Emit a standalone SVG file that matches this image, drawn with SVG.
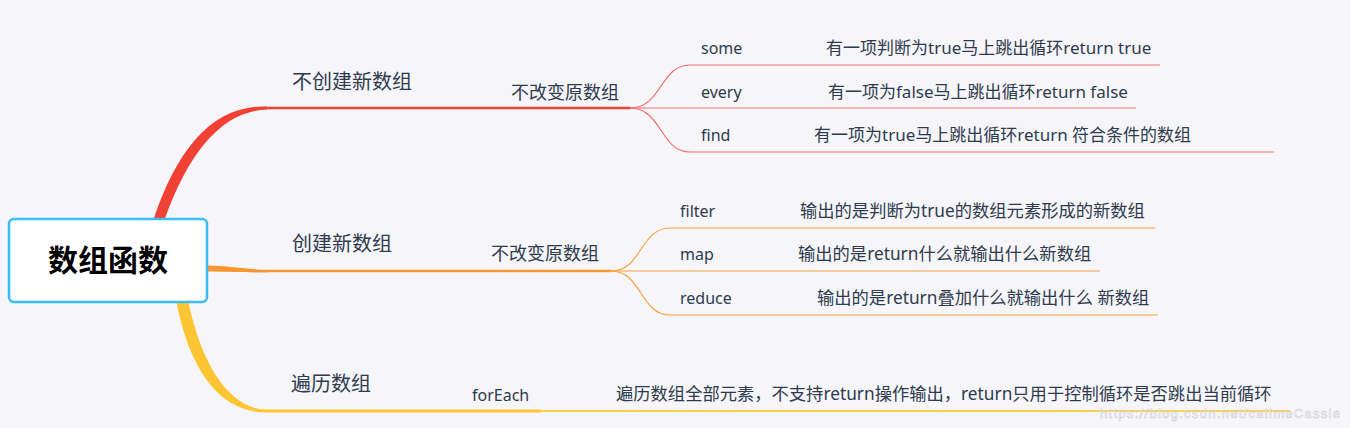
<svg xmlns="http://www.w3.org/2000/svg" width="1350" height="428" viewBox="0 0 1350 428">
<style>
text{font-family:"Noto Sans","Noto Sans CJK SC",sans-serif;fill:#2f3b4c}
.l1{font-size:20px}
.l2{font-size:18px}
.l3{font-size:16px}
.d{font-size:17.3px}
.dr{font-size:17px}
.root{font-size:30px;font-weight:bold;fill:#000;text-anchor:middle}
.rt{fill:none;stroke:#f2706c;stroke-width:1.2}
.ot{fill:none;stroke:#fba13f;stroke-width:1.2}
.wm{font-family:"Liberation Sans",sans-serif;font-size:13px;fill:#ffffff;stroke:#c4c4cc;stroke-width:0.5;opacity:0.85}
</style>
<rect width="1350" height="428" fill="#f5f5fa"/>
<g id="connectors">
  <path d="M153,221 C178,146 214,105 267,106.5 L267,109.5 C224,111 190,148 164,221 Z" fill="#f04134"/>
  <line x1="266" y1="108" x2="630" y2="108" stroke="#f04134" stroke-width="2.6"/>
  <path class="rt" d="M630,108 C662,108 660,65 690,65 L1160,65"/>
  <path class="rt" d="M630,108 L1136,108"/>
  <path class="rt" d="M630,108 C662,108 660,152 690,152 L1274,152"/>
  <path d="M205,265.5 C232,266 248,269.6 267,269.7 L267,272.4 C248,272.5 232,272 205,271.5 Z" fill="#fa9632"/>
  <line x1="266" y1="271" x2="611" y2="271" stroke="#fa9632" stroke-width="2.6"/>
  <path class="ot" d="M611,271 C642,271 640,228 670,228 L1155,228"/>
  <path class="ot" d="M611,271 L1100,271"/>
  <path class="ot" d="M611,271 C642,271 640,315 670,315 L1158,315"/>
  <path d="M176,300 C190,374 222,412.6 267,412.6 L267,409.6 C232,409.6 202,369 188,300 Z" fill="#fdc532"/>
  <line x1="266" y1="411" x2="541" y2="411" stroke="#fdc532" stroke-width="2.8"/>
  <line x1="540" y1="411" x2="1290" y2="411" stroke="#fdd050" stroke-width="2"/>
</g>
<g id="root">
  <rect x="9" y="219" width="198" height="83" rx="5" fill="#ffffff" stroke="#3bbdf6" stroke-width="2.5"/>
  <text class="root" x="108" y="271">数组函数</text>
</g>
<g id="n-nocreate"><text class="l1" x="292" y="89">不创建新数组</text></g>
<g id="n-nochange1"><text class="l2" x="511" y="99">不改变原数组</text></g>
<g id="n-some"><text class="l3" x="701" y="54">some</text></g>
<g id="n-some-d"><text class="dr" x="826" y="54">有一项判断为true马上跳出循环return true</text></g>
<g id="n-every"><text class="l3" x="701" y="98">every</text></g>
<g id="n-every-d"><text class="dr" x="828" y="98">有一项为false马上跳出循环return false</text></g>
<g id="n-find"><text class="l3" x="701" y="141">find</text></g>
<g id="n-find-d"><text class="dr" x="814" y="141">有一项为true马上跳出循环return 符合条件的数组</text></g>
<g id="n-create"><text class="l1" x="292" y="251">创建新数组</text></g>
<g id="n-nochange2"><text class="l2" x="491" y="260">不改变原数组</text></g>
<g id="n-filter"><text class="l3" x="680" y="217">filter</text></g>
<g id="n-filter-d"><text class="d" x="800" y="217">输出的是判断为true的数组元素形成的新数组</text></g>
<g id="n-map"><text class="l3" x="680" y="260">map</text></g>
<g id="n-map-d"><text class="d" x="798" y="260">输出的是return什么就输出什么新数组</text></g>
<g id="n-reduce"><text class="l3" x="680" y="304">reduce</text></g>
<g id="n-reduce-d"><text class="d" x="817" y="304">输出的是return叠加什么就输出什么 新数组</text></g>
<g id="n-traverse"><text class="l1" x="291" y="391">遍历数组</text></g>
<g id="n-foreach"><text class="l3" x="472" y="401">forEach</text></g>
<g id="n-foreach-d"><text class="d" x="616" y="400">遍历数组全部元素，不支持return操作输出，return只用于控制循环是否跳出当前循环</text></g>
<text class="wm" x="1100" y="418" textLength="240">https://blog.csdn.net/callmeCassie</text>
</svg>
